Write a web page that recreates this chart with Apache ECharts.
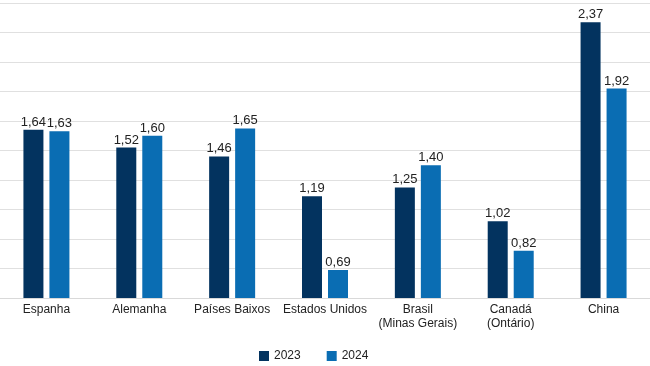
<!DOCTYPE html>
<html><head><meta charset="utf-8">
<script src="https://cdn.jsdelivr.net/npm/echarts@6/dist/echarts.min.js"></script>
<style>html,body{margin:0;padding:0;background:#fff}#c{width:650px;height:366px}</style>
</head><body><div id="c"></div>
<script>
const categories = ['Espanha','Alemanha','Países Baixos','Estados Unidos','Brasil\n(Minas Gerais)','Canadá\n(Ontário)','China'];
const seriesNames = ['2023','2024'];
const values2023 = [1.64,1.52,1.46,1.19,1.25,1.02,2.37];
const values2024 = [1.63,1.60,1.65,0.69,1.40,0.82,1.92];
const chart = echarts.init(document.getElementById('c'));
const lbl = {show:true, position:'top', distance:1, color:'#222', fontSize:13, fontFamily:'Liberation Sans, Arial, sans-serif',
  formatter: p => p.value.toFixed(2).replace('.', ',')};
chart.setOption({
  animation:false,
  grid:{left:0, right:0, top:3, bottom:68},
  legend:{left:254, top:345, itemWidth:10, itemHeight:10, itemGap:26, icon:'rect',
    textStyle:{fontSize:12, color:'#222', fontFamily:'Liberation Sans, Arial, sans-serif'},
    data:seriesNames},
  xAxis:{type:'category', data:categories,
    axisLine:{lineStyle:{color:'#d9d9d9'}}, axisTick:{show:false},
    axisLabel:{color:'#222', fontSize:12, margin:5, lineHeight:14, fontFamily:'Liberation Sans, Arial, sans-serif', interval:0}},
  yAxis:{type:'value', min:0.5, max:2.5, interval:0.2, axisLabel:{show:false}, axisLine:{show:false}, axisTick:{show:false},
    splitLine:{lineStyle:{color:'#e0e0e0'}}},
  series:[
    {name:'2023', type:'bar', data:values2023, barWidth:20, barGap:'30%', itemStyle:{color:'#03335f'}, label:lbl},
    {name:'2024', type:'bar', data:values2024, barWidth:20, itemStyle:{color:'#0a6db3'}, label:lbl}
  ]
});
</script></body></html>
